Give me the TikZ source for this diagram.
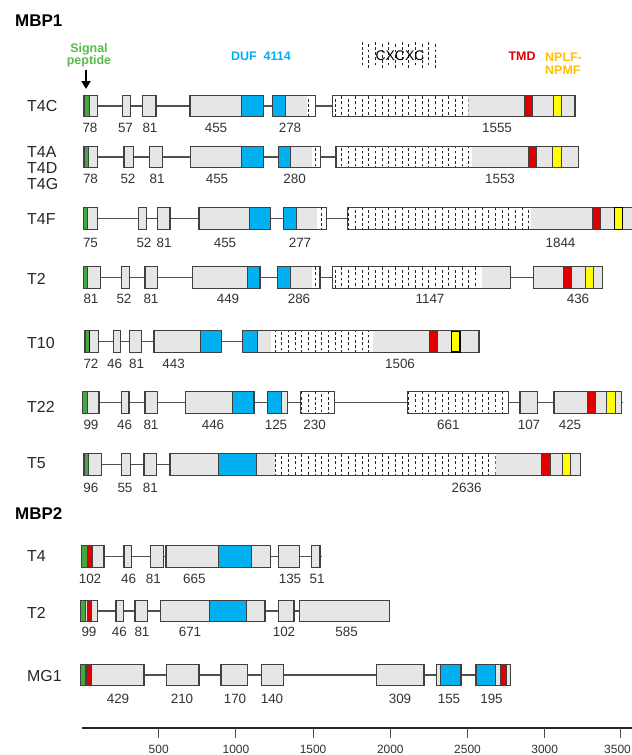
\documentclass[tikz,border=0pt]{standalone}
\usepackage{fontspec}
\setmainfont{Liberation Sans}
\usetikzlibrary{patterns,arrows.meta}
\definecolor{exg}{HTML}{E6E6E6}
\definecolor{edge}{HTML}{404040}
\definecolor{intc}{HTML}{505050}
\definecolor{duf}{HTML}{00B0F0}
\definecolor{tmd}{HTML}{E00000}
\definecolor{npl}{HTML}{FFFF00}
\definecolor{nplt}{HTML}{FFC000}
\definecolor{gex}{HTML}{44A840}
\definecolor{gtx}{HTML}{58BC4C}
\pgfdeclarepatternformonly{vdashes}{\pgfqpoint{-1pt}{-1pt}}{\pgfqpoint{14.4pt}{11.4pt}}{\pgfqpoint{13.4pt}{10.4pt}}{%
  \pgfsetlinewidth{0.9pt}%
  \pgfpathmoveto{\pgfqpoint{1.5pt}{0.6pt}}\pgfpathlineto{\pgfqpoint{1.5pt}{3.4pt}}%
  \pgfpathmoveto{\pgfqpoint{1.5pt}{5.8pt}}\pgfpathlineto{\pgfqpoint{1.5pt}{8.6pt}}%
  \pgfpathmoveto{\pgfqpoint{8.2pt}{3.2pt}}\pgfpathlineto{\pgfqpoint{8.2pt}{6.0pt}}%
  \pgfpathmoveto{\pgfqpoint{8.2pt}{8.4pt}}\pgfpathlineto{\pgfqpoint{8.2pt}{10.4pt}}%
  \pgfpathmoveto{\pgfqpoint{8.2pt}{0pt}}\pgfpathlineto{\pgfqpoint{8.2pt}{0.8pt}}%
  \pgfusepath{stroke}}
\newcommand\exhh{10.8}
\newcommand\setrow[2]{\def\yc{#1}\def\yl{#2}}
\newcommand\exon[3]{\fill[exg] (#1,\yc-\exhh) rectangle (#2,\yc+\exhh); #3 \draw[edge,line width=1.1bp] (#1,\yc-\exhh) rectangle (#2,\yc+\exhh);}
\newcommand\cs[3]{\filldraw[fill=#3,draw=edge,line width=0.9bp] (#1,\yc-\exhh) rectangle (#2,\yc+\exhh);}
\newcommand\ds[2]{\fill[white] (#1,\yc-\exhh) rectangle (#2,\yc+\exhh); \fill[pattern=vdashes,pattern color=black!85] (#1,\yc-\exhh) rectangle (#2,\yc+\exhh);}
\newcommand\intr[2]{\draw[intc,line width=1.2bp] (#1,\yc) -- (#2,\yc);}
\newcounter{nn}
\newcommand\nl[2]{\stepcounter{nn}\node[numlab] (n\arabic{nn}) at (#1,\yl) {#2};}
\newcommand\rl[3]{\node[rowlab] (#1) at (27,#2) {#3};}
\begin{document}
\begin{tikzpicture}[x=1bp,y=-1bp,
  numlab/.style={inner sep=0pt,font=\fontsize{13.5}{15}\selectfont,text=black!80},
  rowlab/.style={inner sep=0pt,anchor=west,font=\fontsize{16}{18}\selectfont,text=black!85},
  title/.style={inner sep=0pt,anchor=west,font=\fontsize{17}{19}\selectfont\bfseries},
  leg/.style={inner sep=0pt,font=\fontsize{12.5}{14}\selectfont\bfseries},
  axlab/.style={inner sep=0pt,font=\fontsize{12}{14}\selectfont,text=black!80}]
\clip (0,0) rectangle (632,755);
\fill[white] (0,0) rectangle (632,755);

% titles and legend
\node[title] (t1) at (15,21) {MBP1};
\node[title] (t2) at (15,514) {MBP2};
\node[leg,text=gtx,align=center] (sp) at (89,55.5) {Signal\\[-2.5pt]peptide};
\coordinate (arT) at (86,70);
\coordinate (arB) at (86,89);
\draw[line width=2.2bp,-{Triangle[length=8bp,width=9bp]}] (arT) -- (arB);
\node[leg,text=duf] (duf) at (261,56) {DUF\ \ 4114};
\fill[white] (362,43) rectangle (439,68);
\fill[pattern=vdashes,pattern color=black!85] (362,43) rectangle (439,68);
\node[inner sep=0pt,font=\fontsize{14}{16}\selectfont] (cx) at (400,56) {CXCXC};
\node[leg,text=tmd] (tm) at (522,56) {TMD};
\node[leg,text=nplt,anchor=west,align=left] (np) at (545,63.5) {NPLF-\\[-1.5pt]NPMF};

% T4C
\rl{r1}{106.5}{T4C}
\setrow{106}{128}
\intr{83}{575}
\exon{84}{97.3}{\cs{84}{89}{gex}}
\exon{122.7}{130.7}{}
\exon{142.7}{156}{}
\exon{190}{263.3}{\cs{241.7}{263.3}{duf}}
\exon{272.7}{315.7}{\cs{272.7}{285}{duf}\ds{306.7}{315.7}}
\exon{332.7}{575}{\ds{332.7}{468.3}\cs{524.3}{532.3}{tmd}\cs{553.3}{561.3}{npl}}
\nl{90}{78}\nl{125.5}{57}\nl{150}{81}\nl{216}{455}\nl{290}{278}\nl{497}{1555}

% T4A/D/G
\rl{r2a}{152}{T4A}
\rl{r2b}{168}{T4D}
\rl{r2c}{184}{T4G}
\setrow{157}{178.5}
\intr{83}{578.3}
\exon{84}{97.3}{\cs{84}{88.5}{gex}}
\exon{124}{133.3}{}
\exon{149.3}{162.3}{}
\exon{190.7}{263.3}{\cs{241.7}{263.3}{duf}}
\exon{278.3}{320.7}{\cs{278.3}{290.7}{duf}\ds{312.3}{320.7}}
\exon{336}{578.3}{\ds{336}{472.3}\cs{528.3}{536}{tmd}\cs{552.7}{561}{npl}}
\nl{90.5}{78}\nl{128}{52}\nl{157}{81}\nl{217}{455}\nl{294.7}{280}\nl{500}{1553}

% T4F
\rl{r3}{219}{T4F}
\setrow{218.5}{242.5}
\intr{83}{347.7}
\exon{83.3}{97.3}{\cs{83.3}{87.7}{gex}}
\exon{138.3}{146.7}{}
\exon{157.3}{170}{}
\exon{199}{270.7}{\cs{249.3}{270.7}{duf}}
\exon{283.3}{326.7}{\cs{283.3}{296.7}{duf}\ds{317.3}{326.7}}
\exon{347.7}{640}{\ds{347.7}{530.7}\cs{592}{600}{tmd}\cs{614.3}{622.3}{npl}}
\draw[black,line width=1.2bp] (614.3,\yc-\exhh-0.5) rectangle (622.3,\yc+\exhh+0.5);
\nl{90.5}{75}\nl{144}{52}\nl{164}{81}\nl{225}{455}\nl{300}{277}\nl{560.5}{1844}

% T2
\rl{r4}{278.5}{T2}
\setrow{277.5}{299}
\intr{83}{533.3}
\exon{83.3}{100.7}{\cs{83.3}{87.7}{gex}}
\exon{121.7}{129.3}{}
\exon{145}{157.3}{}
\exon{192.3}{260}{\cs{247.3}{260}{duf}}
\exon{277.3}{320}{\cs{277.3}{290.7}{duf}\ds{311.7}{320}}
\exon{332.7}{510.7}{\ds{332.7}{481.7}}
\exon{533.3}{602.3}{\cs{563.3}{571.7}{tmd}\cs{585.7}{593.3}{npl}}
\nl{91}{81}\nl{124}{52}\nl{151}{81}\nl{228}{449}\nl{299}{286}\nl{430}{1147}\nl{578}{436}

% T10
\rl{r5}{343}{T10}
\setrow{341.7}{363.5}
\intr{84}{479}
\exon{85}{98.3}{\cs{85}{89.3}{gex}\draw[black,line width=1.6bp] (89.6,\yc-\exhh) -- (89.6,\yc+\exhh);}
\exon{113.3}{120.7}{}
\exon{129.3}{141.7}{}
\exon{154}{221.7}{\cs{200}{221.7}{duf}}
\exon{242.3}{479}{\cs{242.3}{257.3}{duf}\ds{270.7}{372.7}\cs{429.3}{437.3}{tmd}\cs{451.7}{460}{npl}}
\draw[black,line width=1.2bp] (451.7,\yc-\exhh+0.5) rectangle (460,\yc+\exhh-0.5);
\nl{91}{72}\nl{114.7}{46}\nl{136.7}{81}\nl{173.7}{443}\nl{400}{1506}

% T22
\rl{r6}{406.5}{T22}
\setrow{402.5}{424.5}
\intr{82}{623}
\exon{82.7}{99}{\cs{82.7}{87.3}{gex}}
\exon{121.7}{129}{}
\exon{145}{157.7}{}
\exon{185.7}{254}{\cs{232.7}{254}{duf}}
\exon{267.3}{287.3}{\cs{267.3}{281}{duf}}
\exon{300.7}{334.3}{\ds{300.7}{334.3}}
\exon{407.3}{508.3}{\ds{407.3}{508.3}}
\exon{520}{537.3}{}
\exon{554}{621.7}{\cs{587.3}{595.3}{tmd}\cs{606.7}{615}{npl}}
\nl{91}{99}\nl{124.7}{46}\nl{151}{81}\nl{213}{446}\nl{276}{125}\nl{314.7}{230}\nl{448.3}{661}\nl{529}{107}\nl{570}{425}

% T5
\rl{r7}{463.5}{T5}
\setrow{464.5}{487.5}
\intr{83}{170}
\exon{84}{101.7}{\cs{84}{88.3}{gex}}
\exon{121.7}{130.7}{}
\exon{144}{156.7}{}
\exon{170}{580.7}{\cs{218.3}{256}{duf}\ds{275}{495.7}\cs{541.7}{550}{tmd}\cs{562.3}{570.7}{npl}}
\nl{90.8}{96}\nl{125}{55}\nl{150.3}{81}\nl{466.7}{2636}

% MBP2 T4
\rl{r8}{556.5}{T4}
\setrow{556.5}{578.5}
\intr{81}{322}
\exon{81.7}{104}{\cs{81.7}{87.5}{gex}\cs{87.5}{92.3}{tmd}}
\exon{124}{131.7}{}
\exon{150.7}{163.3}{}
\exon{166}{270.7}{\cs{218.3}{251.7}{duf}}
\exon{278.3}{299.3}{}
\exon{311.7}{320}{}
\nl{90}{102}\nl{128.7}{46}\nl{153.3}{81}\nl{194.3}{665}\nl{290}{135}\nl{317}{51}

% MBP2 T2
\rl{r9}{613}{T2}
\setrow{611}{632}
\intr{80}{389.3}
\exon{80.7}{97.3}{\cs{80.7}{85}{gex}\cs{87.3}{91.7}{tmd}}
\exon{116}{123.3}{}
\exon{135}{147.3}{}
\exon{160.7}{265}{\cs{209.3}{246.7}{duf}}
\exon{278.3}{294}{}
\exon{299.3}{389.3}{}
\nl{89}{99}\nl{119.3}{46}\nl{142}{81}\nl{190}{671}\nl{284}{102}\nl{346.7}{585}

% MG1
\rl{r10}{676.5}{MG1}
\setrow{675}{698.5}
\intr{80}{510.7}
\exon{80.7}{144}{\cs{80.7}{85.7}{gex}\cs{86.7}{91.7}{tmd}}
\exon{166.7}{199}{}
\exon{221}{247.3}{}
\exon{261.7}{283.3}{}
\exon{376.7}{424}{}
\exon{436.7}{461}{\cs{440.7}{461}{duf}}
\exon{476}{510.7}{\cs{476}{495.7}{duf}\cs{500}{506.7}{tmd}}
\nl{118}{429}\nl{182}{210}\nl{235}{170}\nl{272}{140}\nl{400}{309}\nl{449}{155}\nl{491.5}{195}

% axis
\coordinate (a0) at (82,728);
\coordinate (a1) at (632,728);
\draw[black!85,line width=1.2bp] (a0) -- (a1);
\foreach \v/\xx/\lx in {500/158.7/158.7,1000/235.9/235.9,1500/313.1/313.1,2000/390.3/390.3,2500/467.5/467.5,3000/544.7/544.7,3500/620.5/617.5}{
  \draw[black!70,line width=1.1bp] (\xx,728) -- (\xx,738);
  \node[axlab] (ax\v) at (\lx,749) {\v};
}
\end{tikzpicture}
\end{document}
